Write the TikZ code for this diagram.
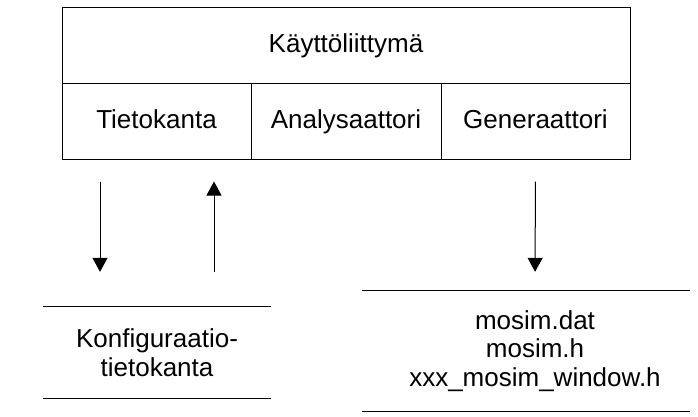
\documentclass[tikz,border=0pt]{standalone}
\usepackage{fontspec}
\setmainfont{Liberation Sans}
\usetikzlibrary{arrows.meta}

\begin{document}
\begin{tikzpicture}[x=1pt, y=-1pt,
  every node/.style={font=\fontsize{26}{28.5}\selectfont, inner sep=0pt},
  cell/.style={draw, line width=1pt, minimum height=76pt,
    text height=18.6pt, text depth=4pt},
  store/.style={align=center},
  rule/.style={line width=1pt},
  flow/.style={line width=1pt, -{Triangle[width=15pt,length=14pt]}}]
  \useasboundingbox (0,0) rectangle (698,416);

  % user interface layer and its three modules
  \node[cell, minimum width=568pt] (ui) at (346,45) {Käyttöliittymä};
  \node[cell, minimum width=189pt] (tieto) at (156.5,121) {Tietokanta};
  \node[cell, minimum width=190pt] (anal) at (346,121) {Analysaattori};
  \node[cell, minimum width=189pt] (gen) at (535.5,121) {Generaattori};

  % data stores, drawn as open boxes (top and bottom rules only)
  \node[store, minimum width=228pt, minimum height=91pt] (konf) at (157,352.5)
    {Konfiguraatio-\\tietokanta};
  \draw[rule] (konf.north west) -- (konf.north east);
  \draw[rule] (konf.south west) -- (konf.south east);

  \node[store, minimum height=120pt] (files) at (535,351)
    {\raisebox{-2pt}{\parbox{300pt}{\centering mosim.dat\\mosim.h\\xxx\_mosim\_window.h}}};
  \draw[rule] ([xshift=-173pt]files.north) -- ([xshift=155pt]files.north);
  \draw[rule] ([xshift=-173pt]files.south) -- ([xshift=155pt]files.south);

  % data flows
  \draw[flow, shorten <=22pt, shorten >=35pt]
    ([xshift=-56.5pt]tieto.south) -- ([xshift=-57pt]konf.north);
  \draw[flow, shorten <=35pt, shorten >=22pt]
    ([xshift=57pt]konf.north) -- ([xshift=57.5pt]tieto.south);
  \draw[flow, shorten <=22pt, shorten >=19pt]
    (gen.south) -- (files.north);
\end{tikzpicture}
\end{document}
